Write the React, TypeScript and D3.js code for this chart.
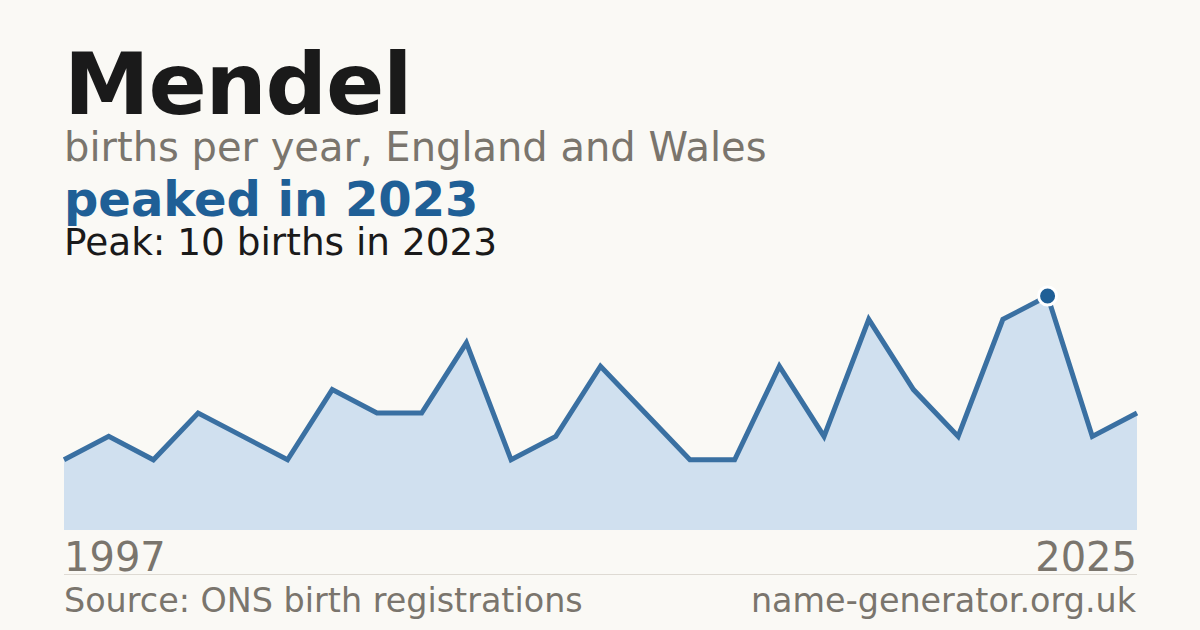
import * as d3 from 'd3';

const W = 1200;
const H = 630;

// years shown (some early years had too few births to be published)
const years = [
  1997, 1998, 2000, 2001, 2003, 2004, 2005, 2007, 2008, 2009, 2010, 2011, 2012,
  2013, 2014, 2015, 2016, 2017, 2018, 2019, 2020, 2021, 2023, 2024, 2025,
];
const births = [3, 4, 3, 5, 4, 3, 6, 5, 5, 8, 3, 4, 7, 5, 3, 3, 7, 4, 9, 6, 4, 9, 10, 4, 5];
const peakYear = 2023;

const BLUE = '#1f5f96';
const GREY = '#7a756d';
const INK = '#1a1a1a';
const FONT = '"DejaVu Sans", Verdana, sans-serif';

export default function App() {
  const left = 64;
  const right = 1137;
  const top = 296;
  const bottom = 530;

  const x = d3.scalePoint<number>().domain(d3.range(years.length)).range([left, right]);
  const y = d3.scaleLinear().domain([0, d3.max(births) as number]).range([bottom, top]);

  const area = d3
    .area<number>()
    .x((_d, i) => x(i) as number)
    .y0(bottom)
    .y1((d) => y(d));
  const line = d3
    .line<number>()
    .x((_d, i) => x(i) as number)
    .y((d) => y(d));

  const pi = years.indexOf(peakYear);

  return (
    <svg
      width={W}
      height={H}
      viewBox={`0 0 ${W} ${H}`}
      style={{ position: 'absolute', left: 0, top: 0, fontFamily: FONT }}
    >
      <rect width={W} height={H} fill="#faf9f5" />

      <text x={left} y={114} fontSize={86} fontWeight="bold" fill={INK} letterSpacing={-1.2}>
        Mendel
      </text>
      <text x={left} y={161} fontSize={40} fill={GREY}>
        births per year, England and Wales
      </text>
      <text x={left} y={216} fontSize={48} fontWeight="bold" fill={BLUE}>
        peaked in {peakYear}
      </text>
      <text x={left} y={255} fontSize={37.4} fill={INK}>
        Peak: {births[pi]} births in {peakYear}
      </text>

      <path d={area(births) ?? ''} fill="#d0e0ef" />
      <path
        d={line(births) ?? ''}
        fill="none"
        stroke="#3a70a2"
        strokeWidth={5}
        strokeLinejoin="miter"
      />
      <circle cx={x(pi)} cy={y(births[pi])} r={9} fill={BLUE} stroke="#ffffff" strokeWidth={3} />

      <text x={left} y={571} fontSize={40} fill={GREY}>
        {years[0]}
      </text>
      <text x={right} y={571} fontSize={40} fill={GREY} textAnchor="end">
        {years[years.length - 1]}
      </text>

      <line x1={left} x2={right} y1={574.5} y2={574.5} stroke="#dedad3" strokeWidth={1} />

      <text x={left} y={612} fontSize={33.4} fill={GREY}>
        Source: ONS birth registrations
      </text>
      <text x={right - 1} y={612} fontSize={33.4} fill={GREY} textAnchor="end">
        name-generator.org.uk
      </text>
    </svg>
  );
}
